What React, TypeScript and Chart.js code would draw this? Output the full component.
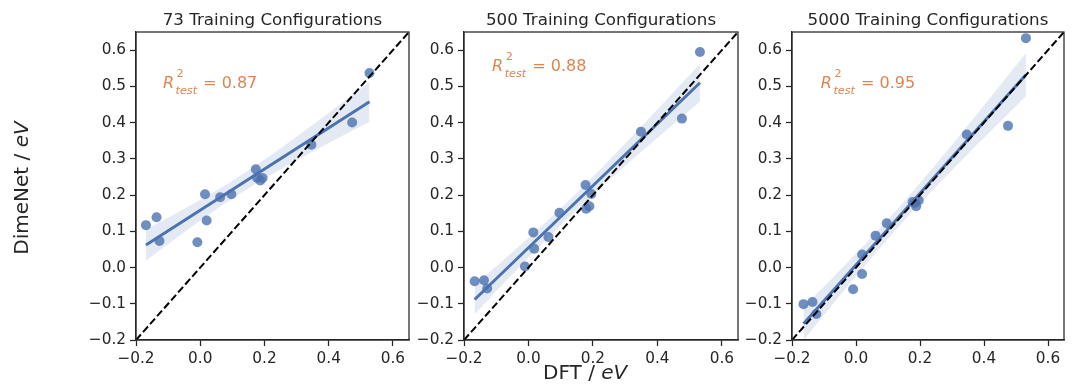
import React, { useEffect, useRef } from "react";
import { Chart, registerables } from "chart.js";
Chart.register(...registerables);

// ---------- data ----------
const TITLES = ["73 Training Configurations", "500 Training Configurations", "5000 Training Configurations"];
const R2_TEST = ["0.87", "0.88", "0.95"];

const DFT_73 = [-0.169, -0.136, -0.127, -0.009, 0.015, 0.020, 0.062, 0.097, 0.173, 0.177, 0.187, 0.194, 0.346, 0.473, 0.527];
const DIMENET_73 = [0.117, 0.139, 0.073, 0.070, 0.202, 0.130, 0.194, 0.202, 0.271, 0.248, 0.240, 0.247, 0.339, 0.400, 0.537];

const DFT_500 = [-0.167, -0.138, -0.128, -0.011, 0.015, 0.018, 0.062, 0.096, 0.177, 0.179, 0.189, 0.195, 0.349, 0.476, 0.532];
const DIMENET_500 = [-0.038, -0.035, -0.058, 0.003, 0.097, 0.052, 0.084, 0.151, 0.228, 0.162, 0.169, 0.203, 0.375, 0.411, 0.595];

const DFT_5000 = [-0.164, -0.136, -0.124, -0.009, 0.019, 0.019, 0.061, 0.096, 0.177, 0.185, 0.188, 0.196, 0.346, 0.475, 0.531];
const DIMENET_5000 = [-0.101, -0.095, -0.128, -0.060, 0.036, -0.018, 0.088, 0.122, 0.181, 0.178, 0.169, 0.185, 0.367, 0.391, 0.633];

const X_TICKS = [-0.2, 0, 0.2, 0.4, 0.6];
const Y_TICKS = [-0.2, -0.1, 0, 0.1, 0.2, 0.3, 0.4, 0.5, 0.6];
const AXIS_MIN = -0.2;
const AXIS_MAX = 0.65;

const SERIES = [
  { dft: DFT_73, dimenet: DIMENET_73 },
  { dft: DFT_500, dimenet: DIMENET_500 },
  { dft: DFT_5000, dimenet: DIMENET_5000 },
];

// ---------- layout / style ----------
const W = 1076;
const H = 390;
const BOXES = [
  { left: 136, right: 409 },
  { left: 464, right: 738 },
  { left: 792, right: 1064 },
];
const PLOT_TOP = 32;
const PLOT_BOTTOM = 340;
const Y_AXIS_W = 50;
const X_AXIS_H = 40;
const ANNOT_POS = [
  { x: -0.116, y: 0.495 },
  { x: -0.113, y: 0.542 },
  { x: -0.11, y: 0.495 },
];

const BLUE = "76,114,176";
const INK = "#262626";
const ORANGE = "#DD8452";
const FONT = '"DejaVu Sans", sans-serif';

function fmt(v: number): string {
  const s = (Math.abs(v) < 1e-9 ? 0 : v).toFixed(1);
  return s.replace("-", "\u2212");
}

function regression(xs: number[], ys: number[]) {
  const n = xs.length;
  const mx = xs.reduce((a, b) => a + b, 0) / n;
  const my = ys.reduce((a, b) => a + b, 0) / n;
  let sxx = 0;
  let sxy = 0;
  for (let i = 0; i < n; i++) {
    sxx += (xs[i] - mx) ** 2;
    sxy += (xs[i] - mx) * (ys[i] - my);
  }
  const b = sxy / sxx;
  const a = my - b * mx;
  let sse = 0;
  for (let i = 0; i < n; i++) sse += (ys[i] - a - b * xs[i]) ** 2;
  const s = Math.sqrt(sse / (n - 2));
  const t = 2.16; // 95% two-sided, df = 13
  const lo = Math.min(...xs);
  const hi = Math.max(...xs);
  const upper: { x: number; y: number }[] = [];
  const lower: { x: number; y: number }[] = [];
  const steps = 100;
  for (let k = 0; k <= steps; k++) {
    const x = lo + ((hi - lo) * k) / steps;
    const yh = a + b * x;
    const half = t * s * Math.sqrt(1 / n + (x - mx) ** 2 / sxx);
    upper.push({ x, y: yh + half });
    lower.push({ x, y: yh - half });
  }
  return {
    line: [
      { x: lo, y: a + b * lo },
      { x: hi, y: a + b * hi },
    ],
    upper,
    lower,
  };
}

function Panel({ index }: { index: number }) {
  const ref = useRef<HTMLCanvasElement>(null);
  useEffect(() => {
    if (!ref.current) return;
    const { dft, dimenet } = SERIES[index];
    const fit = regression(dft, dimenet);
    const box = BOXES[index];

    const textPlugin = {
      id: "panelText" + index,
      afterDraw(chart: any) {
        const ctx: CanvasRenderingContext2D = chart.ctx;
        const ca = chart.chartArea;
        ctx.save();
        // full frame (top/right spines)
        ctx.strokeStyle = INK;
        ctx.lineWidth = 1.25;
        ctx.strokeRect(ca.left, ca.top, ca.right - ca.left, ca.bottom - ca.top);

        // title
        ctx.fillStyle = INK;
        ctx.font = `16.7px ${FONT}`;
        ctx.textAlign = "center";
        ctx.textBaseline = "alphabetic";
        ctx.fillText(TITLES[index], (ca.left + ca.right) / 2, ca.top - 7);

        // R^2 annotation
        const p = ANNOT_POS[index];
        const ax = chart.scales.x.getPixelForValue(p.x);
        const ay = chart.scales.y.getPixelForValue(p.y);
        ctx.textAlign = "left";
        ctx.fillStyle = ORANGE;
        ctx.font = `italic 16px ${FONT}`;
        ctx.fillText("R", ax, ay);
        const rw = ctx.measureText("R").width;
        ctx.font = `11.2px ${FONT}`;
        ctx.fillText("2", ax + rw + 2.5, ay - 11.5);
        ctx.font = `italic 11.2px ${FONT}`;
        ctx.fillText("test", ax + rw + 1.5, ay + 5.5);
        const tw = ctx.measureText("test").width;
        ctx.font = `16px ${FONT}`;
        ctx.fillText(" = " + R2_TEST[index], ax + rw + 1.5 + tw + 1, ay);

        if (index === 0) {
          ctx.fillStyle = INK;
          // x label
          ctx.font = `20px ${FONT}`;
          const xa = "DFT / ";
          const xw = ctx.measureText(xa).width;
          ctx.fillText(xa, 543, 379);
          ctx.font = `italic 20px ${FONT}`;
          ctx.fillText("eV", 543 + xw, 379);
          // y label
          ctx.font = `20px ${FONT}`;
          const ya = "DimeNet / ";
          const yw = ctx.measureText(ya).width;
          ctx.font = `italic 20px ${FONT}`;
          const ew = ctx.measureText("eV").width;
          ctx.translate(28, 188);
          ctx.rotate(-Math.PI / 2);
          const start = -(yw + ew) / 2;
          ctx.font = `20px ${FONT}`;
          ctx.fillText(ya, start, 0);
          ctx.font = `italic 20px ${FONT}`;
          ctx.fillText("eV", start + yw, 0);
        }
        ctx.restore();
      },
    };

    const axisCommon = (ticks: number[], isX: boolean) => ({
      type: "linear" as const,
      min: AXIS_MIN,
      max: AXIS_MAX,
      afterBuildTicks: (s: any) => {
        s.ticks = ticks.map((v) => ({ value: v }));
      },
      afterFit: (s: any) => {
        if (isX) s.height = X_AXIS_H;
        else s.width = Y_AXIS_W;
      },
      grid: {
        display: true,
        drawOnChartArea: false,
        drawTicks: true,
        tickLength: 6,
        tickColor: INK,
        tickWidth: 1.25,
        color: INK,
      },
      border: { display: true, color: INK, width: 1.25 },
      ticks: {
        color: INK,
        font: { family: "DejaVu Sans", size: 15.3 },
        padding: 4,
        autoSkip: false,
        maxRotation: 0,
        callback: (v: any) => fmt(Number(v)),
      },
    });

    const chart = new Chart(ref.current, {
      type: "scatter",
      data: {
        datasets: [
          {
            type: "line",
            label: "identity",
            data: [
              { x: AXIS_MIN, y: AXIS_MIN },
              { x: AXIS_MAX, y: AXIS_MAX },
            ],
            borderColor: "#000000",
            borderWidth: 2,
            borderDash: [7.4, 3.2],
            pointRadius: 0,
            fill: false,
            order: 0,
          } as any,
          {
            type: "line",
            label: "fit",
            data: fit.line,
            borderColor: `rgb(${BLUE})`,
            borderWidth: 3,
            pointRadius: 0,
            fill: false,
            order: 1,
          } as any,
          {
            type: "line",
            label: "ci-upper",
            data: fit.upper,
            borderWidth: 0,
            borderColor: "rgba(0,0,0,0)",
            pointRadius: 0,
            fill: "+1",
            backgroundColor: `rgba(${BLUE},0.15)`,
            order: 2,
          } as any,
          {
            type: "line",
            label: "ci-lower",
            data: fit.lower,
            borderWidth: 0,
            borderColor: "rgba(0,0,0,0)",
            pointRadius: 0,
            fill: false,
            order: 3,
          } as any,
          {
            type: "scatter",
            label: "points",
            data: dft.map((x, i) => ({ x, y: dimenet[i] })),
            backgroundColor: `rgba(${BLUE},0.8)`,
            borderWidth: 0,
            pointRadius: 5,
            order: 4,
          } as any,
        ],
      },
      options: {
        responsive: false,
        animation: false,
        devicePixelRatio: 1,
        layout: {
          padding: {
            left: box.left - Y_AXIS_W,
            right: W - box.right,
            top: PLOT_TOP,
            bottom: H - PLOT_BOTTOM - X_AXIS_H,
          },
        },
        plugins: {
          legend: { display: false },
          tooltip: { enabled: false },
          title: { display: false },
        },
        scales: {
          x: axisCommon(X_TICKS, true),
          y: axisCommon(Y_TICKS, false),
        },
      } as any,
      plugins: [textPlugin],
    });
    return () => chart.destroy();
  }, [index]);

  return (
    <canvas
      ref={ref}
      width={W}
      height={H}
      style={{ position: "absolute", left: 0, top: 0, width: W, height: H }}
    />
  );
}

export default function App() {
  return (
    <div style={{ position: "absolute", left: 0, top: 0, width: W, height: H, background: "#ffffff" }}>
      <Panel index={0} />
      <Panel index={1} />
      <Panel index={2} />
    </div>
  );
}
